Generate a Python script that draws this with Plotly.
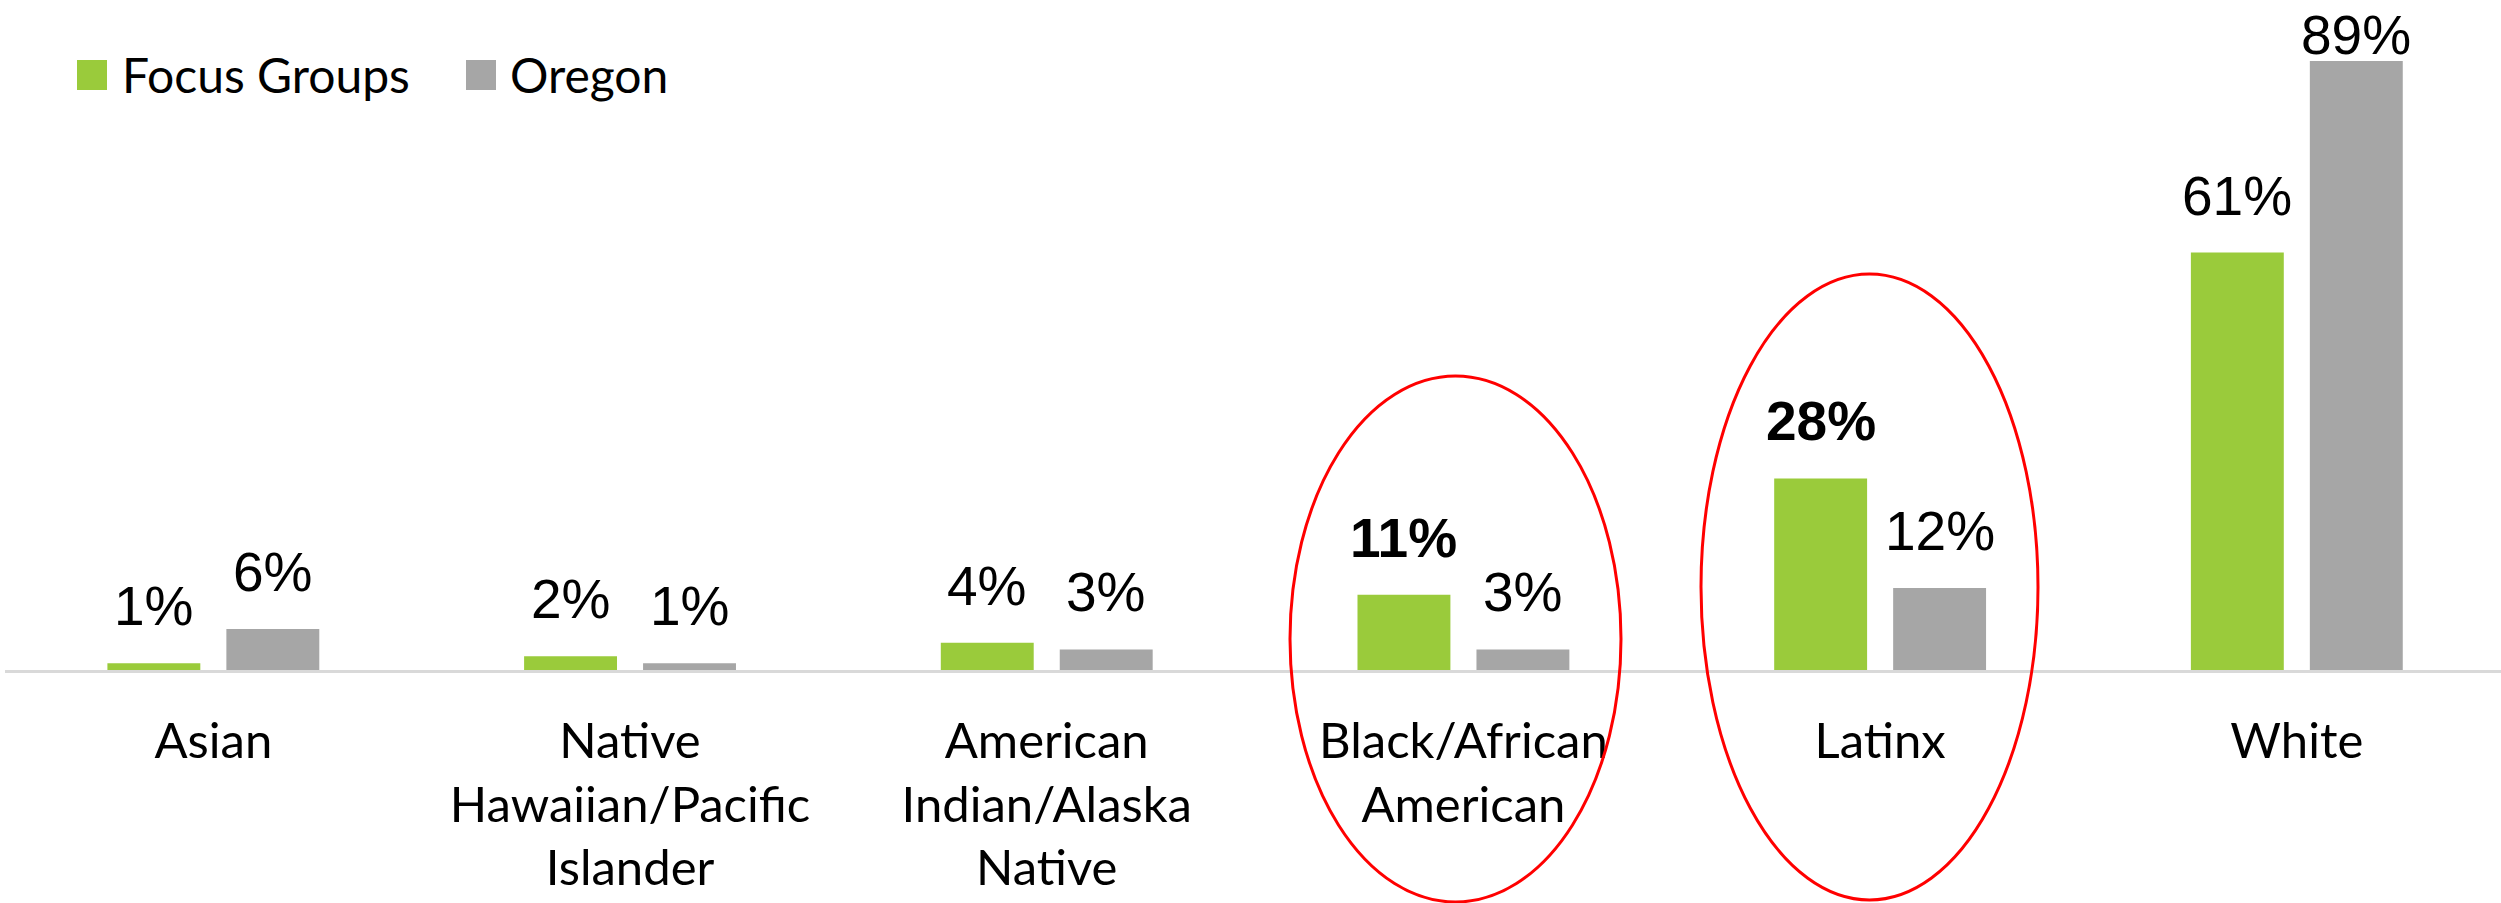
import plotly.graph_objects as go

# ---------------- data ----------------
categories = ["Asian", "Native Hawaiian/Pacific Islander", "American Indian/Alaska Native",
              "Black/African American", "Latinx", "White"]
tick_labels = ["Asian", "Native<br>Hawaiian/Pacific<br>Islander", "American<br>Indian/Alaska<br>Native",
               "Black/African<br>American", "Latinx", "White"]
focus_groups = [1, 2, 4, 11, 28, 61]
oregon = [6, 1, 3, 3, 12, 89]
series_names = ["Focus Groups", "Oregon"]
highlighted = ["Black/African American", "Latinx"]

# ---------------- style ----------------
W, H = 2501, 903
ML, MR, MT, MB = 5, 0, 0, 233
PLOT_W = W - ML - MR
PLOT_H = H - MT - MB
Y_MAX = 97.9
PX_PER = PLOT_H / Y_MAX
GREEN = "#9ACB3B"
GRAY = "#A6A6A6"
LABEL_FONT = "Liberation Sans, Arial, sans-serif"
CAT_FONT = "Lato, Open Sans, sans-serif"
LABEL_SIZE = 55
BAR_OFFSET = 59.5

fig = go.Figure()
colors = [GREEN, GRAY]
values = [focus_groups, oregon]
for name, vals, col in zip(series_names, values, colors):
    fig.add_trace(go.Bar(x=categories, y=vals, name=name, marker_color=col,
                         marker_line_width=0, showlegend=False, hoverinfo="skip"))

# data labels
annotations = []
for si, vals in enumerate(values):
    offset = -BAR_OFFSET if si == 0 else BAR_OFFSET
    for cat, v in zip(categories, vals):
        bar_top = PLOT_H - v * PX_PER
        yshift = 24
        if bar_top - yshift - 15 - 40 < 13:
            yshift = bar_top - 15 - 40 - 13
        txt = f"{v}%"
        if si == 0 and cat in highlighted:
            txt = f"<b>{txt}</b>"
        annotations.append(dict(x=cat, y=v, xref="x", yref="y", text=txt, showarrow=False,
                                xshift=offset, yshift=yshift, yanchor="bottom", xanchor="center",
                                font=dict(family=LABEL_FONT, size=LABEL_SIZE, color="black")))

def px_x(px):
    return (px - ML) / PLOT_W

def px_y(py):
    return (MT + PLOT_H - py) / PLOT_H

# manual legend
shapes = []
legend_items = [(77, 120), (466, 508)]
for (sx, tx), name, col in zip(legend_items, series_names, colors):
    shapes.append(dict(type="rect", xref="paper", yref="paper",
                       x0=px_x(sx), x1=px_x(sx + 30), y0=px_y(90), y1=px_y(60),
                       fillcolor=col, line_width=0))
    annotations.append(dict(x=px_x(tx), y=px_y(74), xref="paper", yref="paper", text=name,
                            showarrow=False, xanchor="left", yanchor="middle",
                            font=dict(family=CAT_FONT, size=48, color="black")))

# red ellipses around highlighted categories
ellipse_boxes = {"Black/African American": (1290, 1621, 376, 902),
                 "Latinx": (1701, 2038, 274, 900)}
for cat in highlighted:
    x0, x1, y0, y1 = ellipse_boxes[cat]
    shapes.append(dict(type="circle", xref="paper", yref="paper",
                       x0=px_x(x0), x1=px_x(x1), y0=px_y(y1), y1=px_y(y0),
                       line=dict(color="#FF0000", width=3), fillcolor="rgba(0,0,0,0)"))

fig.update_layout(
    width=W, height=H, autosize=False,
    margin=dict(l=ML, r=MR, t=MT, b=MB, pad=0),
    paper_bgcolor="white", plot_bgcolor="white",
    barmode="group", bargap=0.429, bargroupgap=0.219,
    annotations=annotations, shapes=shapes,
    showlegend=False,
    xaxis=dict(type="category", tickmode="array", tickvals=categories, ticktext=tick_labels,
               range=[-0.5, 5.49], showline=True, linecolor="#D9D9D9", linewidth=3,
               showgrid=False, zeroline=False, ticks="", ticklabelstandoff=26,
               tickfont=dict(family=CAT_FONT, size=49, color="black")),
    yaxis=dict(range=[0, Y_MAX], showgrid=False, zeroline=False, showticklabels=False,
               showline=False, ticks=""),
)

fig.write_html("out.html")
